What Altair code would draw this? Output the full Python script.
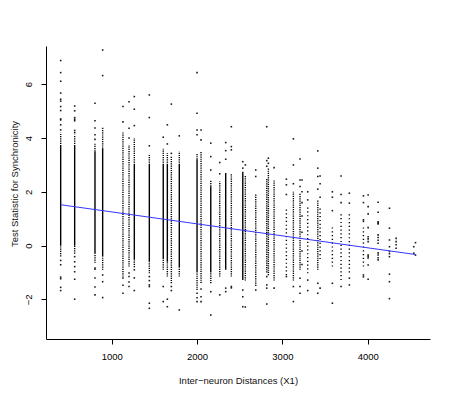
import altair as alt
import pandas as pd

# ---- data ----
# columns of observations (x = inter-neuron distance)
col_x = [402, 566, 804, 894, 1132, 1203, 1265, 1441, 1604, 1652, 1699, 1792,
         2000, 2047, 2161, 2266, 2336, 2402, 2536, 2566, 2688, 2817, 2836, 2903,
         3047, 3129, 3207, 3297, 3415, 3442, 3586, 3688, 3785, 3950]
# full extent of the packed part of each column
spread_lo = [-0.4, -0.3, -0.64, -0.9, -1.15, -0.78, -0.8, -1.03, -0.9, -1.15, -1.4, -1.15,
             -1.65, -1.39, -1.4, -1.15, -0.9, -1.15, -1.28, -1.3, -1.5, -1.0, -1.1, -1.3,
             -1.1, -1.3, -0.9, -1.03, -0.9, -0.5, -0.78, -1.28, -1.0, -0.78]
spread_hi = [4.2, 4.12, 3.82, 4.41, 4.24, 3.74, 4.0, 3.37, 3.6, 3.43, 3.3, 3.5,
             3.43, 3.5, 2.44, 2.38, 2.7, 2.69, 2.75, 2.63, 1.9, 2.5, 2.9, 2.44,
             1.45, 2.0, 1.95, 1.45, 1.7, 1.4, 0.71, 1.2, 1.2, 0.71]
# the solid (most crowded) core, where there is one
dense_lo = [0.0, 0.0, -0.3, -0.4, None, None, -0.5, -0.6, -0.5, -0.6, None, -0.8,
            -1.0, None, -1.0, None, -0.9, None, -1.28, None, None, None, None, None,
            None, None, None, None, None, None, None, None, None, None]
dense_hi = [3.7, 3.7, 3.5, 3.6, None, None, 3.0, 3.0, 3.0, 3.0, None, 3.0,
            3.2, None, 2.2, None, 2.7, None, 2.75, None, None, None, None, None,
            None, None, None, None, None, None, None, None, None, None]
col_kind = ["medium"] * 24 + ["sparse", "medium", "medium", "sparse", "medium",
                              "sparse", "sparse", "sparse", "sparse", "sparse"]

# individually visible observations
pt_cols = [402, 566, 804, 894, 1132, 1203, 1265, 1441, 1604, 1652, 1699, 1792,
           2000, 2047, 2161, 2266, 2336, 2402, 2536, 2566, 2688, 2817, 2836, 2903,
           3047, 3129, 3207, 3230, 3297, 3415, 3442, 3586, 3688, 3785, 3950,
           4005, 4122, 4255, 4333, 4540, 4560]
pt_vals = [
    [6.88, 6.43, 6.11, 5.67, 5.44, 5.37, 5.17, 5.02, 4.71, 4.67, 4.49, 4.3, -0.55, -0.71, -1.17, -1.23, -1.55, -1.67],
    [5.19, 5.01, 4.76, 4.7, 4.64, 4.28, 4.2, -0.41, -0.6, -0.78, -0.97, -1.25, -1.99],
    [5.29, 4.64, 4.37, 4.12, 3.95, -0.83, -0.88, -1.2, -1.54, -1.83],
    [7.27, 6.32, -1.09, -1.34, -1.93],
    [5.17, 4.6, -1.2, -1.47, -1.77],
    [5.35, 4.36, 4.0, -1.02, -1.15, -1.35, -1.52],
    [5.54, 5.07, 4.46, -0.9, -1.2, -1.67],
    [5.6, 4.76, 3.71, -1.15, -1.3, -1.46, -1.52, -2.14, -2.33],
    [4.03, -1.52, -2.08],
    [4.49, 3.78, -1.99, -2.27],
    [5.26, 3.43, -1.52, -1.67],
    [4.08, -2.39],
    [6.43, 4.92, 4.3, 4.12, -1.77, -1.94, -2.08],
    [4.3, 3.93, -1.61, -1.9, -2.08],
    [3.81, 3.31, 2.81, -1.71, -2.58],
    [3.09, 2.67, -1.83],
    [3.83, 3.53, 3.21, -1.58, -1.71],
    [4.42, 3.68, 3.56, -1.52, -1.57],
    [3.12, 2.88, -1.65, -1.9, -2.27],
    [3.0, -2.28],
    [2.81, 2.57, -1.65],
    [4.42, 3.16, 2.95, -1.15, -1.46, -1.58, -2.17],
    [3.25, 3.06],
    [2.9, -1.58],
    [2.47, 2.26, 1.9, -1.15],
    [3.97, 3.0, 2.3, -1.52, -2.08],
    [3.22, 2.44, 2.2, -1.21, -1.52, -1.77],
    [2.44, 2.0, 1.6, 1.1, 0.5, -0.2, -0.7],
    [2.0, 1.7, -1.28, -1.67],
    [3.52, 2.88, 2.57, 2.1, -1.4, -1.77],
    [2.59, 2.3, 1.8, -1.58],
    [2.0, 1.8, 1.3, -1.4, -2.14],
    [2.59, 1.9, 1.6, -1.52],
    [1.95, 1.58, -1.21, -1.46],
    [1.85, 1.6, 0.96, 0.9, -1.09, -1.16],
    [1.88, 1.45, 1.18, 0.67, 0.33, 0.25, 0.15, -0.35, -0.4, -0.46, -0.72, -1.25],
    [1.61, 1.24, 0.89, 0.85, 0.81, 0.4, 0.3, 0.2, 0.09, -0.27, -0.35, -0.45, -0.53],
    [1.39, 0.65, 0.21, -0.04, -0.22, -0.3, -0.41, -1.06, -1.34, -1.97],
    [0.27, 0.15, 0.03, -0.1],
    [-0.04, -0.28],
    [0.11, -0.35],
]

# fitted regression line (end points)
fit_x = [402, 4560]
fit_y = [1.52, -0.33]

x_ticks = [1000, 2000, 3000, 4000]
y_ticks = [-2, 0, 2, 4, 6]

# ---- tables ----
seg_rows = []
for i, cx in enumerate(col_x):
    slo, shi = spread_lo[i], spread_hi[i]
    dlo, dhi = dense_lo[i], dense_hi[i]
    if dlo is None:
        seg_rows.append({"x": cx, "lo": slo, "hi": shi, "kind": col_kind[i]})
    else:
        seg_rows.append({"x": cx, "lo": dlo, "hi": dhi, "kind": "dense"})
        if shi > dhi:
            seg_rows.append({"x": cx, "lo": dhi, "hi": shi, "kind": col_kind[i]})
        if slo < dlo:
            seg_rows.append({"x": cx, "lo": slo, "hi": dlo, "kind": col_kind[i]})
seg_df = pd.DataFrame(seg_rows)

pt_df = pd.DataFrame([{"x": cx, "y": v} for cx, vals in zip(pt_cols, pt_vals) for v in vals])
fit_df = pd.DataFrame({"x": fit_x, "y": fit_y})

FONT = "Liberation Sans"
W, H = 384, 293

xs = alt.Scale(domain=[230, 4730], nice=False, zero=False)
ys = alt.Scale(domain=[-3.47, 7.42], nice=False, zero=False)

xaxis = alt.Axis(values=x_ticks, format="d", grid=False, tickSize=5, labelPadding=7,
                 labelFontSize=9.5, titleFontSize=9.5, labelFont=FONT, titleFont=FONT,
                 titleFontWeight="normal", labelColor="black", titleColor="#111",
                 domainColor="black", tickColor="black", labelFlush=False,
                 titleX=W / 2, titleY=41, titleAlign="center", titleBaseline="middle")
yaxis = alt.Axis(values=y_ticks, format="d", grid=False, tickSize=5, labelPadding=8,
                 labelAngle=270, labelAlign="center", labelBaseline="bottom",
                 labelFontSize=9.5, titleFontSize=9.5, labelFont=FONT, titleFont=FONT,
                 titleFontWeight="normal", labelColor="black", titleColor="#111",
                 domainColor="black", tickColor="black", labelFlush=False,
                 titleAngle=270, titleX=-32, titleY=137.5, titleAlign="center",
                 titleBaseline="middle")

X = lambda: alt.X("x:Q", scale=xs, axis=xaxis, title="Inter\u2212neuron Distances (X1)")
Y = lambda f: alt.Y(f, scale=ys, axis=yaxis, title="Test Statistic for Synchronicity")

rules = alt.Chart(seg_df).mark_rule(strokeWidth=1.4, color="black").encode(
    x=X(), y=Y("lo:Q"), y2="hi:Q",
    strokeDash=alt.StrokeDash("kind:N", legend=None,
                              scale=alt.Scale(domain=["dense", "medium", "sparse"],
                                              range=[[1, 0], [1.2, 1.0], [1.2, 2.6]])),
)
points = alt.Chart(pt_df).mark_square(size=2.5, color="black", opacity=0.9).encode(
    x=X(), y=Y("y:Q"))
line = alt.Chart(fit_df).mark_line(color="#3535ff", strokeWidth=1).encode(
    x=X(), y=Y("y:Q"))

chart = alt.layer(rules, points, line).properties(
    width=W, height=H,
    autosize=alt.AutoSizeParams(type="none"),
    padding={"left": 38, "top": 38, "right": 16, "bottom": 50},
).configure_view(stroke=None)

chart.save("out.html", embed_options={"renderer": "svg", "actions": False})
